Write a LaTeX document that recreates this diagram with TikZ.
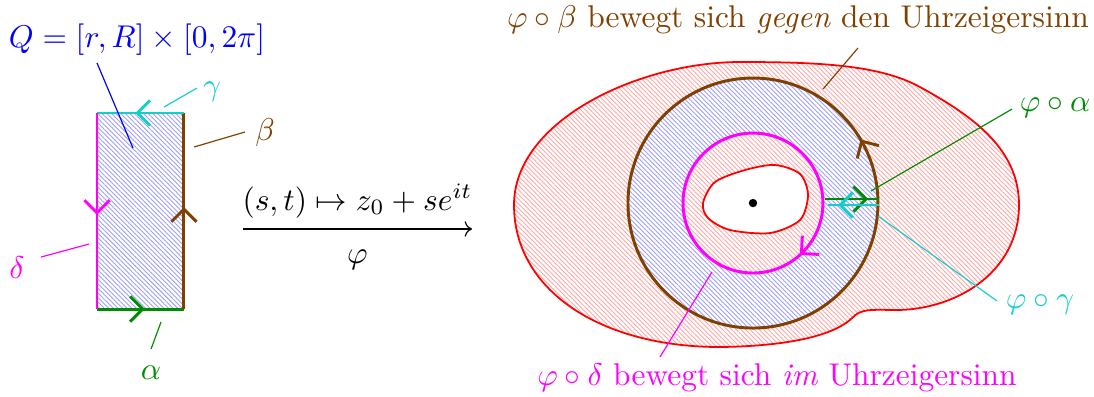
\documentclass[tikz,border=0pt]{standalone}
\usepackage{amsmath}
\usepackage{amssymb}
\usepackage{tikz}
\usepackage{xcolor}
\usetikzlibrary{arrows.meta,decorations.markings,patterns.meta}

\definecolor{braun}{RGB}{128,64,0}
\definecolor{tuerkis}{RGB}{20,205,205}
\definecolor{gruen}{RGB}{0,140,0}
\definecolor{pink}{RGB}{255,0,255}

\begin{document}
\begin{tikzpicture}[
	every node/.style={scale=1.065},
	rand/.style={line width=1pt},
	mitte/.style={postaction={decorate},decoration={markings,mark=at position #1 with {\arrow{Straight Barb[length=1.5mm,width=3mm]}}}},
	blauschraffur/.style={pattern={Lines[angle=-45,distance=1.1pt,line width=0.3pt]}, pattern color=blue!38},
	rotschraffur/.style={pattern={Lines[angle=-45,distance=1.1pt,line width=0.3pt]}, pattern color=red!35},
	zeiger/.style={line width=0.4pt}
	]
	\useasboundingbox (0,0) rectangle (13.024,-4.726);
	
	% Rechteck Q
	\coordinate (A) at (1.155,-3.679);
	\coordinate (B) at (2.190,-3.679);
	\coordinate (C) at (2.190,-1.345);
	\coordinate (D) at (1.155,-1.345);
	\fill[blauschraffur] (A) rectangle (C);
	\draw[rand, gruen, mitte=0.55] (A) -- (B);
	\draw[rand, braun, mitte=0.52] (B) -- (C);
	\draw[rand, tuerkis, mitte=0.56] (C) -- (D);
	\draw[rand, pink, mitte=0.52] (D) -- (A);
	
	% Beschriftungen links
	\node[blue] (Qtext) at (1.631,-0.476) {$Q=[r,R]\times[0,2\pi]$};
	\coordinate (Qa) at (1.155,-0.75);
	\coordinate (Qb) at (1.583,-1.762);
	\draw[zeiger, blue] (Qa) -- (Qb);
	
	\node[tuerkis] (gammatext) at (2.524,-1.095) {$\gamma$};
	\coordinate (ga) at (1.952,-1.274);
	\coordinate (gb) at (2.345,-1.048);
	\draw[zeiger, tuerkis] (ga) -- (gb);
	
	\node[braun] (betatext) at (3.155,-1.583) {$\beta$};
	\coordinate (ba) at (2.310,-1.75);
	\coordinate (bb) at (2.917,-1.571);
	\draw[zeiger, braun] (ba) -- (bb);
	
	\node[pink] (deltatext) at (0.202,-3.19) {$\delta$};
	\coordinate (da) at (1.060,-2.905);
	\coordinate (db) at (0.488,-3.06);
	\draw[zeiger, pink] (da) -- (db);
	
	\node[gruen] (alphatext) at (1.798,-4.44) {$\alpha$};
	\coordinate (aa) at (1.917,-3.833);
	\coordinate (ab) at (1.798,-4.155);
	\draw[zeiger, gruen] (aa) -- (ab);
	
	% Abbildungspfeil
	\coordinate (links) at (2.893,-2.726);
	\coordinate (rechts) at (5.619,-2.726);
	\draw[->] (links) -- (rechts) node[midway,above] {$(s,t)\mapsto z_0+se^{it}$} node[midway,below=3pt] {$\varphi$};
	
	% Bildgebiet (aussen und innen rot berandet)
	\coordinate (M) at (8.964,-2.417);
	\draw[red, semithick, rotschraffur, even odd rule]
		(6.119,-2.440) .. controls (6.119,-1.429) and (7.619,-0.738) .. (8.810,-0.738)
		.. controls (9.762,-0.738) and (10.476,-0.774) .. (10.952,-1.036)
		.. controls (11.607,-1.393) and (12.131,-1.786) .. (12.131,-2.440)
		.. controls (12.131,-3.214) and (11.429,-3.667) .. (10.714,-3.690)
		.. controls (10.357,-3.690) and (10.262,-3.667) .. (10.143,-3.786)
		.. controls (9.976,-3.952) and (9.524,-4.119) .. (8.571,-4.131)
		.. controls (7.143,-4.131) and (6.119,-3.452) .. cycle
		plot[smooth cycle] coordinates {(8.369,-2.417) (8.512,-2.167) (8.869,-2.024) (9.226,-1.964) (9.524,-2.071) (9.619,-2.321) (9.524,-2.619) (9.167,-2.774) (8.690,-2.738) (8.429,-2.595)};
	
	% Kreisring
	\fill[white, even odd rule] (M) circle[radius=1.488] (M) circle[radius=0.833];
	\fill[blauschraffur, even odd rule] (M) circle[radius=1.488] (M) circle[radius=0.833];
	\draw[rand, braun, mitte=0.085] (M) ++(0:1.488) arc[start angle=0, end angle=360, radius=1.488];
	\draw[rand, pink, mitte=0.133] (M) ++(0:0.833) arc[start angle=0, end angle=-360, radius=0.833];
	\fill (M) circle[radius=0.05];
	
	% Bilder von alpha und gamma
	\coordinate (a1) at (9.821,-2.369);
	\coordinate (a2) at (10.464,-2.369);
	\coordinate (c1) at (10.464,-2.440);
	\coordinate (c2) at (9.857,-2.440);
	\draw[rand, gruen, mitte=0.8] (a1) -- (a2);
	\draw[rand, tuerkis, mitte=0.8] (c1) -- (c2);
	
	% Beschriftungen rechts
	\node[braun] (pbtext) at (9.5,-0.238) {$\varphi\circ\beta$ bewegt sich \emph{gegen} den Uhrzeigersinn};
	\coordinate (pba) at (9.798,-1.060);
	\coordinate (pbb) at (10.214,-0.571);
	\draw[zeiger, braun] (pba) -- (pbb);
	
	\node[gruen] (patext) at (12.56,-1.286) {$\varphi\circ\alpha$};
	\coordinate (paa) at (10.369,-2.274);
	\coordinate (pab) at (12.048,-1.298);
	\draw[zeiger, gruen] (paa) -- (pab);
	
	\node[tuerkis] (pgtext) at (12.381,-3.631) {$\varphi\circ\gamma$};
	\coordinate (pga) at (10.452,-2.571);
	\coordinate (pgb) at (11.869,-3.583);
	\draw[zeiger, tuerkis] (pga) -- (pgb);
	
	\node[pink] (pdtext) at (9.25,-4.5) {$\varphi\circ\delta$ bewegt sich \emph{im} Uhrzeigersinn};
	\coordinate (pda) at (8.476,-3.238);
	\coordinate (pdb) at (7.857,-4.25);
	\draw[zeiger, pink] (pda) -- (pdb);
\end{tikzpicture}
\end{document}
